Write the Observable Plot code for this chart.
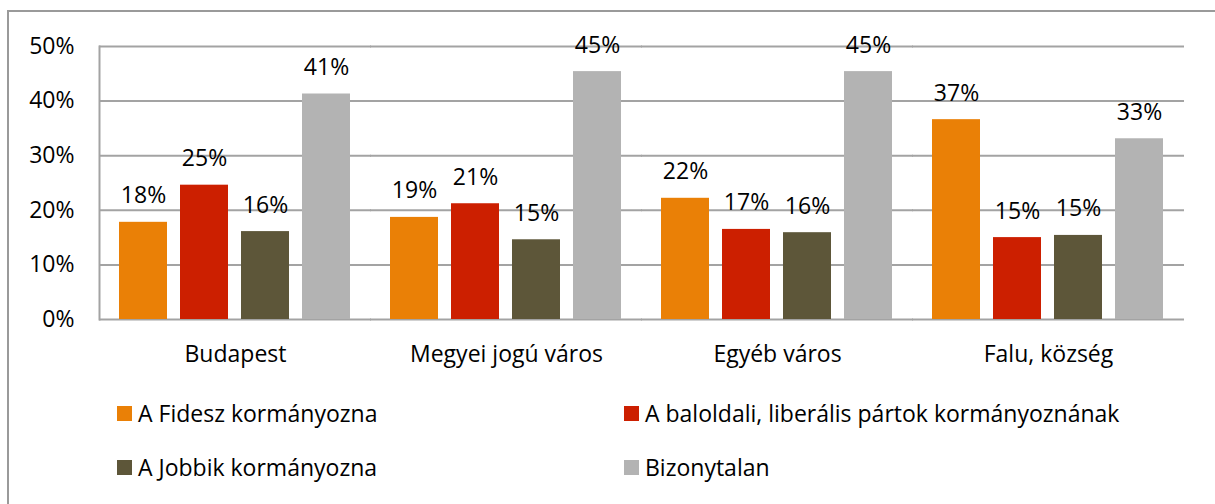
<!DOCTYPE html>
<html>
<head>
<meta charset="utf-8">
<script src="https://cdn.jsdelivr.net/npm/d3@7"></script>
<script src="https://cdn.jsdelivr.net/npm/@observablehq/plot@0.6"></script>
<style>
  html, body { margin: 0; padding: 0; background: #fff; }
  body { width: 1215px; height: 504px; position: relative; overflow: hidden; font-family: "Open Sans", sans-serif; }
  #border { position: absolute; left: 7px; top: 10px; width: 1220px; height: 520px; border-left: 2px solid #9a9a9a; border-top: 2px solid #9a9a9a; box-sizing: border-box; }
  #chart { position: absolute; left: 0; top: 0; }
  .leg { position: absolute; display: flex; align-items: center; font-size: 23px; color: #000; white-space: nowrap; }
  .sw { width: 15px; height: 15px; margin-right: 6px; }
</style>
</head>
<body>
<div id="border"></div>
<div id="chart"></div>
<div id="legend"></div>
<script>
const categories = ["Budapest", "Megyei jogú város", "Egyéb város", "Falu, község"];
const series = ["A Fidesz kormányozna", "A baloldali, liberális pártok kormányoznának", "A Jobbik kormányozna", "Bizonytalan"];
const colors = ["#EA8006", "#CC1F00", "#5D5639", "#B3B3B3"];
const fidesz = [17.8, 18.7, 22.2, 36.6];
const baloldali = [24.6, 21.2, 16.5, 15.0];
const jobbik = [16.1, 14.6, 15.9, 15.4];
const bizonytalan = [41.3, 45.4, 45.4, 33.1];
const yTicks = [0, 10, 20, 30, 40, 50];

const seriesValues = [fidesz, baloldali, jobbik, bizonytalan];
const data = [];
categories.forEach((c, i) => {
  series.forEach((s, j) => {
    data.push({category: c, series: s, value: seriesValues[j][i]});
  });
});

const grid = "#a3a3a3";
const plot = Plot.plot({
  width: 1215,
  height: 379,
  marginLeft: 98,
  marginRight: 31,
  marginTop: 46,
  marginBottom: 60,
  style: {fontFamily: "Open Sans, sans-serif", fontSize: "23px", color: "#000", background: "transparent", overflow: "visible"},
  fx: {domain: categories, paddingInner: 0.137, paddingOuter: 0.07, axis: "bottom", label: null, tickSize: 0, tickPadding: 26},
  x: {domain: series, paddingInner: 0.21, paddingOuter: 0, axis: null},
  y: {domain: [0, 50], ticks: yTicks, tickFormat: d => d + "%", tickSize: 0, tickPadding: 44, label: null},
  color: {domain: series, range: colors},
  marks: [
    Plot.ruleY(yTicks, {y: d => d, stroke: grid, strokeWidth: 2, insetLeft: -19, insetRight: -19}),
    Plot.frame({anchor: "left", stroke: grid, strokeWidth: 2, facet: "super", insetLeft: -19}),
    Plot.barY(data, {fx: "category", x: "series", y: "value", fill: "series"}),
    Plot.text(data, {fx: "category", x: "series", y: "value", text: d => Math.round(d.value) + "%", lineAnchor: "bottom", dy: -19, fill: "#000", fontSize: 23})
  ]
});
document.getElementById("chart").appendChild(plot);

const legend = document.getElementById("legend");
const legPos = [[117, 413], [624, 413], [117, 467], [624, 467]];
series.forEach((s, i) => {
  const el = document.createElement("div");
  el.className = "leg";
  el.style.left = legPos[i][0] + "px";
  el.style.top = (legPos[i][1] - 16) + "px";
  el.style.height = "32px";
  const sw = document.createElement("div");
  sw.className = "sw";
  sw.style.background = colors[i];
  el.appendChild(sw);
  const t = document.createElement("span");
  t.textContent = s;
  el.appendChild(t);
  legend.appendChild(el);
});
</script>
</body>
</html>
